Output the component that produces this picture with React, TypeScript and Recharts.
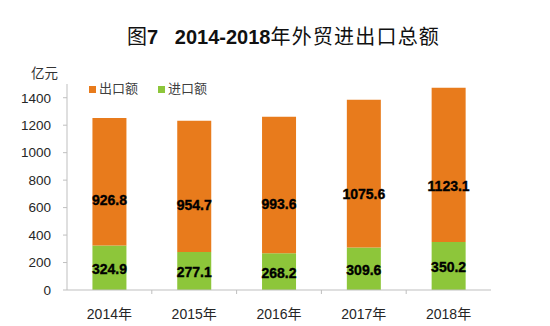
import React from 'react';
import { BarChart, Bar, XAxis, YAxis, LabelList } from 'recharts';

const years = ['2014年', '2015年', '2016年', '2017年', '2018年'];
const exportValues = [926.8, 954.7, 993.6, 1075.6, 1123.1];
const importValues = [324.9, 277.1, 268.2, 309.6, 350.2];
const yTicks = [0, 200, 400, 600, 800, 1000, 1200, 1400];

const ORANGE = '#E87B1C';
const GREEN = '#8DC63A';
const AXIS = '#BFBFBF';
const FONT = '"Liberation Sans", Arial, "Noto Sans CJK SC", sans-serif';

const data = years.map((year, i) => ({
  year,
  exports: exportValues[i],
  imports: importValues[i],
}));

const XTick = (props: any) => {
  const { x, y, payload, index } = props;
  const off = payload && payload.offset ? payload.offset : 42.4;
  return (
    <g>
      {index > 0 && (
        <line x1={x - off} x2={x - off} y1={y} y2={y + 4} stroke={AXIS} strokeWidth={1} />
      )}
      <text x={x} y={y + 28.5} textAnchor="middle" fontSize={14} fontFamily={FONT} fill="#262626">
        {payload.value}
      </text>
    </g>
  );
};

const labelStyle = {
  fontSize: 14,
  fontWeight: 'bold' as const,
  fontFamily: FONT,
  fill: '#000',
  stroke: '#000',
  strokeWidth: 0.35,
};

const ExportLabel = (props: any) => {
  const { x, y, width, height, value } = props;
  return (
    <text
      x={x + width / 2}
      y={y + height * 0.64}
      textAnchor="middle"
      dominantBaseline="central"
      {...labelStyle}
    >
      {value}
    </text>
  );
};

const ImportLabel = (props: any) => {
  const { x, y, width, height, value } = props;
  return (
    <text
      x={x + width / 2}
      y={y + height / 2 + 1}
      textAnchor="middle"
      dominantBaseline="central"
      {...labelStyle}
    >
      {value}
    </text>
  );
};

export default function App() {
  return (
    <div style={{ position: 'absolute', left: 0, top: 0, width: 550, height: 326, background: '#fff' }}>
      <div
        style={{
          position: 'absolute',
          left: 127,
          top: 24,
          fontFamily: FONT,
          fontSize: 20,
          lineHeight: '26px',
          color: '#111',
          whiteSpace: 'pre',
        }}
      >
        <span>图</span>
        <span style={{ fontWeight: 'bold' }}>7   2014-2018</span>
        <span style={{ letterSpacing: 1.2 }}>年外贸进出口总额</span>
      </div>
      <div
        style={{
          position: 'absolute',
          left: 31,
          top: 65,
          fontFamily: FONT,
          fontSize: 13.5,
          lineHeight: '17px',
          color: '#333',
        }}
      >
        亿元
      </div>
      <div
        style={{
          position: 'absolute',
          left: 89,
          top: 81,
          display: 'flex',
          alignItems: 'center',
          fontFamily: FONT,
          fontSize: 13,
          lineHeight: '16px',
          color: '#404040',
        }}
      >
        <span style={{ display: 'inline-block', width: 7, height: 7, background: ORANGE, marginRight: 3 }} />
        <span style={{ marginRight: 20 }}>出口额</span>
        <span style={{ display: 'inline-block', width: 7, height: 7, background: GREEN, marginRight: 3 }} />
        <span>进口额</span>
      </div>
      <div style={{ position: 'absolute', left: 0, top: 0 }}>
        <BarChart
          width={550}
          height={326}
          data={data}
          margin={{ top: 84, right: 59, bottom: 6, left: 0 }}
          barCategoryGap="30%"
        >
          <XAxis
            dataKey="year"
            axisLine={{ stroke: AXIS }}
            tickLine={false}
            tickSize={0}
            tickMargin={0}
            height={30}
            tick={<XTick />}
            interval={0}
          />
          <YAxis
            width={67}
            domain={[0, 1500]}
            ticks={yTicks}
            allowDataOverflow
            axisLine={{ stroke: AXIS }}
            tickLine={{ stroke: AXIS }}
            tickSize={4}
            tickMargin={12}
            tick={{ fontSize: 13.5, fontFamily: FONT, fill: '#262626' }}
          />
          <Bar dataKey="imports" stackId="a" fill={GREEN} isAnimationActive={false}>
            <LabelList dataKey="imports" content={<ImportLabel />} />
          </Bar>
          <Bar dataKey="exports" stackId="a" fill={ORANGE} isAnimationActive={false}>
            <LabelList dataKey="exports" content={<ExportLabel />} />
          </Bar>
        </BarChart>
      </div>
    </div>
  );
}
